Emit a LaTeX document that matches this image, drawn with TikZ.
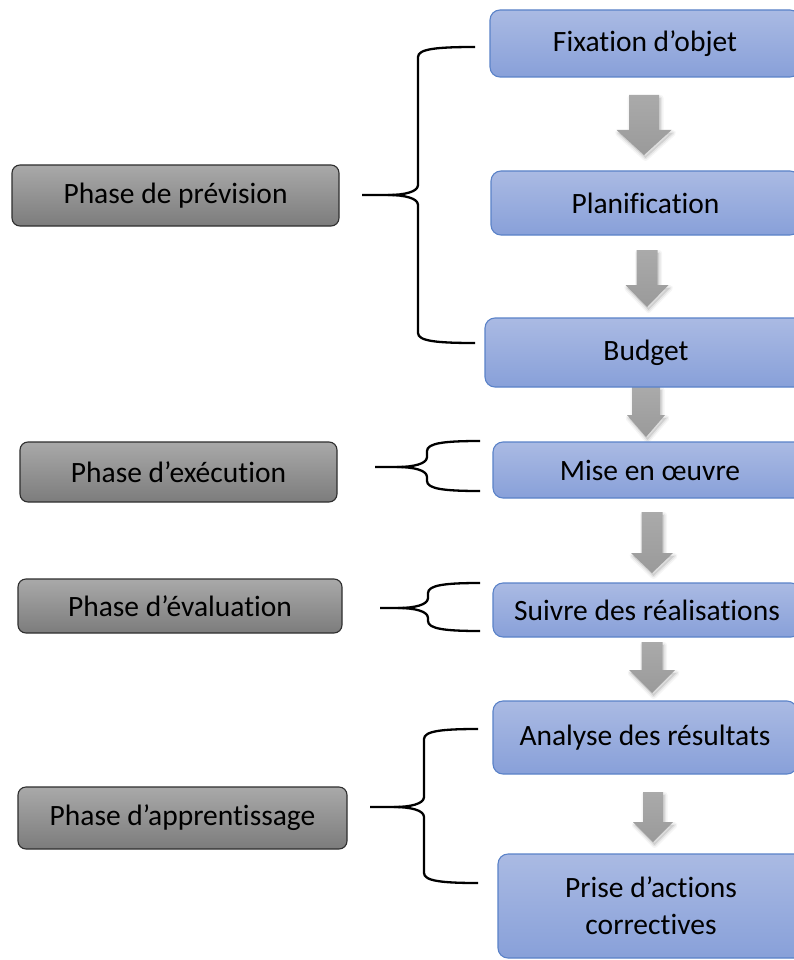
\documentclass[tikz,border=0pt]{standalone}
\usepackage{fontspec}
\setmainfont{Carlito}[Ligatures=NoCommon]

\definecolor{bluetop}{HTML}{AABAE3}
\definecolor{bluebot}{HTML}{88A0D9}
\definecolor{blueline}{HTML}{5A82C8}
\definecolor{graytop}{HTML}{A9A9A9}
\definecolor{graybot}{HTML}{7C7C7C}
\definecolor{grayline}{HTML}{2E2E2E}
\definecolor{arrowtop}{HTML}{AAAAAA}
\definecolor{arrowbot}{HTML}{9A9A9A}

\tikzset{
  stagebox/.style={draw=blueline, line width=1.1pt, rounded corners=10pt,
    top color=bluetop, bottom color=bluebot, inner sep=0pt,
    font=\fontsize{29.5}{37}\selectfont, align=center},
  phasebox/.style={draw=grayline, line width=1.1pt, rounded corners=8pt,
    top color=graytop, bottom color=graybot, inner sep=0pt,
    font=\fontsize{29.5}{37}\selectfont},
  bracepen/.style={draw=black, line width=2.3pt, line join=round},
  arrowhalo/.style={draw=black, fill=black, line join=round,
    draw opacity=#1, fill opacity=#1},
  flowarrow/.style={top color=arrowtop, bottom color=arrowbot},
}

% down block arrow: centre x, top, head start, tip, shaft half-width, head half-width
\newcommand\arrowoutline[6]{({#1-#5},#2) -- ({#1+#5},#2) -- ({#1+#5},#3) -- ({#1+#6},#3)
    -- (#1,#4) -- ({#1-#6},#3) -- ({#1-#5},#3) -- cycle}
\newcommand\flowblock[6]{%
  \begin{scope}[shift={(1.5,3)}]
    \path[arrowhalo=0.04, line width=6pt] \arrowoutline{#1}{#2}{#3}{#4}{#5}{#6};
    \path[arrowhalo=0.06, line width=3pt] \arrowoutline{#1}{#2}{#3}{#4}{#5}{#6};
  \end{scope}
  \path[flowarrow] \arrowoutline{#1}{#2}{#3}{#4}{#5}{#6};}

% curly brace opening to the right: tip x, tip y, spine x, top y, bottom y, end x
\newcommand\phasebrace[6]{%
  \draw[bracepen] (#6,#4) .. controls ({#3+18},#4) and (#3,{#4+2}) .. (#3,{#4+10})
    -- (#3,{#2-10}) .. controls (#3,{#2-3}) and ({#3-14},#2) .. ({#3-30},#2) -- (#1,#2);
  \draw[bracepen] (#6,#5) .. controls ({#3+18},#5) and (#3,{#5-2}) .. (#3,{#5-10})
    -- (#3,{#2+10}) .. controls (#3,{#2+3}) and ({#3-14},#2) .. ({#3-30},#2);}

\begin{document}
\begin{tikzpicture}[x=1pt, y=-1pt]
\useasboundingbox[fill=white] (0,0) rectangle (794,960);

% arrows between steps (drawn first so the boxes sit on top)
\flowblock{644}{95}{130}{155}{15}{27.5}
\flowblock{647}{250}{285}{307}{10.5}{21.5}
\flowblock{646}{387}{415}{437}{14}{19}
\flowblock{652}{512}{553}{573}{10.5}{21}
\flowblock{652}{642}{670}{693}{10.5}{23}
\flowblock{653}{792}{822}{842}{10}{20}

% process steps
\node[stagebox, minimum width=310pt, minimum height=67pt] (fix) at (645,43.5) {Fixation d’objet};
\node[stagebox, minimum width=309pt, minimum height=64pt] (plan) at (645.5,203) {Planification};
\node[stagebox, minimum width=322pt, minimum height=69pt] (bud) at (646,352.5) {Budget};
\node[stagebox, minimum width=314pt, minimum height=56pt] (mise) at (650,470) {Mise en œuvre};
\node[stagebox, minimum width=308pt, minimum height=54pt] (suiv) at (647,610) {Suivre des réalisations};
\node[stagebox, minimum width=304pt, minimum height=73pt] (ana) at (645,737.5) {Analyse des résultats};
\node[stagebox, minimum width=306pt, minimum height=104pt] (prise) at (651,906) {Prise d’actions\\correctives};

% phases
\node[phasebox, minimum width=327pt, minimum height=61pt] (prev) at (175.5,195.5) {Phase de prévision};
\node[phasebox, minimum width=317pt, minimum height=60pt] (exec) at (178.5,472) {Phase d’exécution};
\node[phasebox, minimum width=324pt, minimum height=54pt] (eval) at (180,606) {Phase d’évaluation};
\node[phasebox, minimum width=329pt, minimum height=62pt] (appr) at (182.5,818) {Phase d’apprentissage};

% braces grouping the steps of each phase
\phasebrace{362}{195}{418}{47}{343}{475}
\phasebrace{375}{467}{427}{441}{491}{480}
\phasebrace{380}{608}{428}{583}{631}{480}
\phasebrace{370}{807}{424}{729}{883}{478}
\end{tikzpicture}
\end{document}
